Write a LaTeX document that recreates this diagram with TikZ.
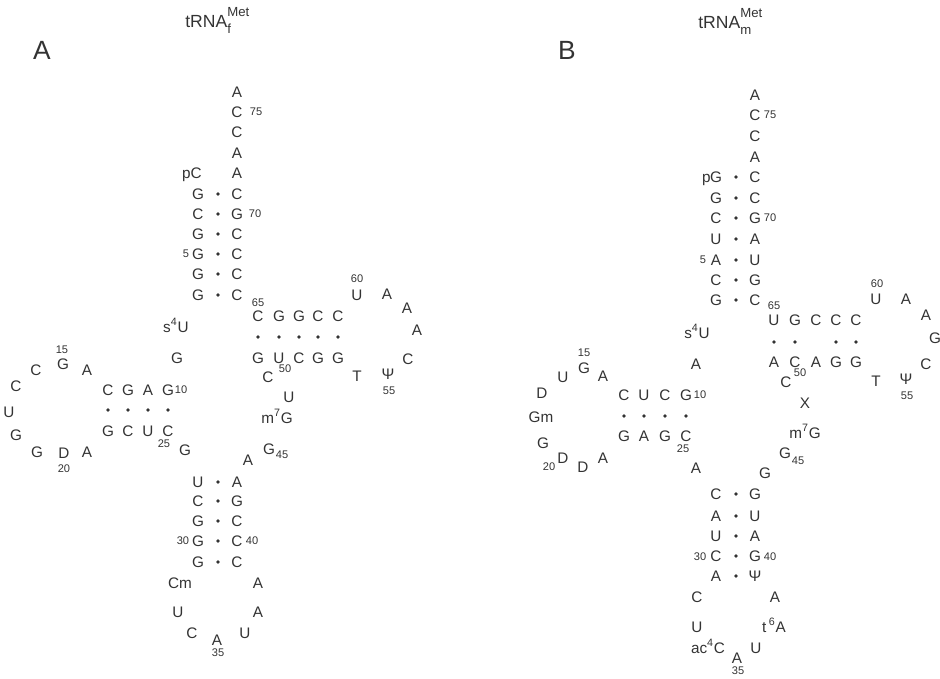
\documentclass[tikz,border=0pt]{standalone}
\usepackage{fontspec}
\setmainfont{Liberation Sans}
\usepackage{tikz}
\usetikzlibrary{positioning}
\definecolor{ink}{gray}{0.2}
\newcommand{\trnaname}[1]{tRNA\rlap{\raisebox{1.2ex}{\fontsize{7.5}{7.5}\selectfont Met}}\raisebox{-0.6ex}{\fontsize{7.5}{7.5}\selectfont #1}}

\begin{document}
\begin{tikzpicture}[
	x=0.02cm, y=-0.02cm,
	nt/.style={
		font=\fontsize{8.7}{9}\selectfont,
		text=ink,
		inner sep=0pt,
		text height=6.3pt,
		text depth=0pt
	},
	num/.style={
		font=\fontsize{6.3}{7}\selectfont,
		text=ink,
		inner sep=0pt,
		text height=4.5pt,
		text depth=0pt
	},
	bp/.style={
		circle,
		fill=ink,
		inner sep=0pt,
		minimum size=2.2pt
	},
	panel/.style={
		font=\fontsize{15}{15}\selectfont,
		text=ink,
		inner sep=0pt
	},
	title/.style={
		font=\fontsize{10}{10}\selectfont,
		text=ink,
		inner sep=0pt,
		anchor=base west
	}
	]
	\useasboundingbox (0,0) rectangle (940,679);
	
	% ---------- A : tRNA f ----------
	\node[title] (a_title) at (185,28) {\trnaname{f}};
	\node[panel] (a_label) at (42,50) {A};
	
	% acceptor end
	\foreach \y/\t [count=\i] in {92/A,112/C,132/C,153/A,173/A}
		\node[nt] (a_end\i) at (237,\y) {\t};
	\node[nt, anchor=east] (a_pc) at (202,173) {pC};
	\node[num] (a_n75) at (256,112) {75};
	
	% acceptor stem
	\foreach \y/\l/\r [count=\i] in {194/G/C,214/C/G,234/G/C,254/G/C,274/G/C,295/G/C} {
		\node[nt] (a_accl\i) at (198,\y) {\l};
		\node[bp] (a_accd\i) at (218,\y) {};
		\node[nt] (a_accr\i) at (237,\y) {\r};
	}
	\node[num] (a_n70) at (255,214) {70};
	\node[num] (a_n5) at (186,254) {5};
	
	% D arm
	\node[nt] (a_s4u) at (176,327) {s\textsuperscript{4}U};
	\node[nt] (a_g9) at (177,358) {G};
	\foreach \x/\t/\b [count=\i] in {108/C/G,128/G/C,148/A/U,168/G/C} {
		\node[nt] (a_dt\i) at (\x,390) {\t};
		\node[bp] (a_dd\i) at (\x,410) {};
		\node[nt] (a_db\i) at (\x,431) {\b};
	}
	\node[num] (a_n10) at (181,390) {10};
	\node[num] (a_n25) at (164,444) {25};
	\node[nt] (a_g26) at (185,450) {G};
	\foreach \x/\y/\t [count=\i] in {87/370/A,63/364/G,36/370/C,16/386/C,9/412/U,16/435/G,37/452/G,64/453/D,87/452/A}
		\node[nt] (a_dl\i) at (\x,\y) {\t};
	\node[num] (a_n15) at (62,350) {15};
	\node[num] (a_n20) at (64,469) {20};
	
	% T arm
	\foreach \x/\t/\b [count=\i] in {258/C/G,279/G/U,299/G/C,318/C/G,338/C/G} {
		\node[nt] (a_tt\i) at (\x,316) {\t};
		\node[bp] (a_td\i) at (\x,337) {};
		\node[nt] (a_tb\i) at (\x,358) {\b};
	}
	\node[num] (a_n65) at (258,303) {65};
	\foreach \x/\y/\t [count=\i] in {357/295/U,387/294/A,407/308/A,417/330/A,408/359/C,388/374/Ψ,357/376/T}
		\node[nt] (a_tl\i) at (\x,\y) {\t};
	\node[num] (a_n60) at (357,279) {60};
	\node[num] (a_n55) at (389,391) {55};
	
	% variable loop
	\node[nt] (a_c48) at (268,377) {C};
	\node[num] (a_n50) at (285,369) {50};
	\node[nt] (a_u47) at (289,397) {U};
	\node[nt] (a_m7g) at (277,418) {m\textsuperscript{7}G};
	\node[nt] (a_g45) at (269,449) {G};
	\node[num] (a_n45) at (282,455) {45};
	\node[nt] (a_a44) at (248,460) {A};
	
	% anticodon arm
	\foreach \y/\l/\r [count=\i] in {482/U/A,501/C/G,521/G/C,541/G/C,562/G/C} {
		\node[nt] (a_acl\i) at (198,\y) {\l};
		\node[bp] (a_acd\i) at (218,\y) {};
		\node[nt] (a_acr\i) at (237,\y) {\r};
	}
	\node[num] (a_n30) at (183,541) {30};
	\node[num] (a_n40) at (252,541) {40};
	\foreach \x/\y/\t [count=\i] in {180/583/Cm,178/612/U,192/633/C,217/640/A,245/633/U,258/612/A,258/583/A}
		\node[nt] (a_al\i) at (\x,\y) {\t};
	\node[num] (a_n35) at (218,653) {35};
	
	% ---------- B : tRNA m ----------
	\node[title] (b_title) at (698,29) {\trnaname{m}};
	\node[panel] (b_label) at (567,50) {B};
	
	% acceptor end
	\foreach \y/\t [count=\i] in {95/A,115/C,136/C,157/A}
		\node[nt] (b_end\i) at (755,\y) {\t};
	\node[num] (b_n75) at (770,115) {75};
	
	% acceptor stem
	\foreach \y/\l/\r [count=\i] in {177/G/C,198/G/C,218/C/G,239/U/A,260/A/U,280/C/G,300/G/C} {
		\node[nt] (b_accl\i) at (716,\y) {\l};
		\node[bp] (b_accd\i) at (736,\y) {};
		\node[nt] (b_accr\i) at (755,\y) {\r};
	}
	\node[nt, anchor=east] (b_p) at (711,177) {p};
	\node[num] (b_n70) at (770,218) {70};
	\node[num] (b_n5) at (703,260) {5};
	
	% D arm
	\node[nt] (b_s4u) at (697,333) {s\textsuperscript{4}U};
	\node[nt] (b_a9) at (696,364) {A};
	\foreach \x/\t/\b [count=\i] in {624/C/G,644/U/A,665/C/G,686/G/C} {
		\node[nt] (b_dt\i) at (\x,395) {\t};
		\node[bp] (b_dd\i) at (\x,416) {};
		\node[nt] (b_db\i) at (\x,436) {\b};
	}
	\node[num] (b_n10) at (700,395) {10};
	\node[num] (b_n25) at (683,449) {25};
	\node[nt] (b_a26) at (696,468) {A};
	\foreach \x/\y/\t [count=\i] in {603/376/A,584/368/G,563/377/U,542/393/D,541/417/Gm,543/443/G,563/458/D,583/467/D,603/458/A}
		\node[nt] (b_dl\i) at (\x,\y) {\t};
	\node[num] (b_n15) at (584,353) {15};
	\node[num] (b_n20) at (549,467) {20};
	
	% T arm
	\foreach \x/\t/\b [count=\i] in {774/U/A,795/G/C,816/C/A,836/C/G,856/C/G} {
		\node[nt] (b_tt\i) at (\x,320) {\t};
		\node[nt] (b_tb\i) at (\x,362) {\b};
	}
	\foreach \x [count=\i] in {774,795,836,856}
		\node[bp] (b_td\i) at (\x,342) {};
	\node[num] (b_n65) at (774,306) {65};
	\foreach \x/\y/\t [count=\i] in {876/299/U,906/299/A,926/315/A,935/338/G,926/364/C,906/379/Ψ,876/381/T}
		\node[nt] (b_tl\i) at (\x,\y) {\t};
	\node[num] (b_n60) at (877,284) {60};
	\node[num] (b_n55) at (907,396) {55};
	
	% variable loop
	\node[nt] (b_c48) at (786,382) {C};
	\node[num] (b_n50) at (800,373) {50};
	\node[nt] (b_x47) at (805,403) {X};
	\node[nt] (b_m7g) at (805,433) {m\textsuperscript{7}G};
	\node[nt] (b_g45) at (785,453) {G};
	\node[num] (b_n45) at (798,461) {45};
	\node[nt] (b_g44) at (765,473) {G};
	
	% anticodon arm
	\foreach \y/\l/\r [count=\i] in {494/C/G,516/A/U,536/U/A,556/C/G,576/A/Ψ} {
		\node[nt] (b_acl\i) at (716,\y) {\l};
		\node[bp] (b_acd\i) at (736,\y) {};
		\node[nt] (b_acr\i) at (755,\y) {\r};
	}
	\node[num] (b_n30) at (700,557) {30};
	\node[num] (b_n40) at (770,557) {40};
	\foreach \x/\y/\t [count=\i] in {697/597/C,697/627/U,708/648/{ac\textsuperscript{4}C},737/658/A,756/648/U,774/627/{t\,\textsuperscript{6}A},775/597/A}
		\node[nt] (b_al\i) at (\x,\y) {\t};
	\node[num] (b_n35) at (738,671) {35};
	
\end{tikzpicture}
\end{document}
